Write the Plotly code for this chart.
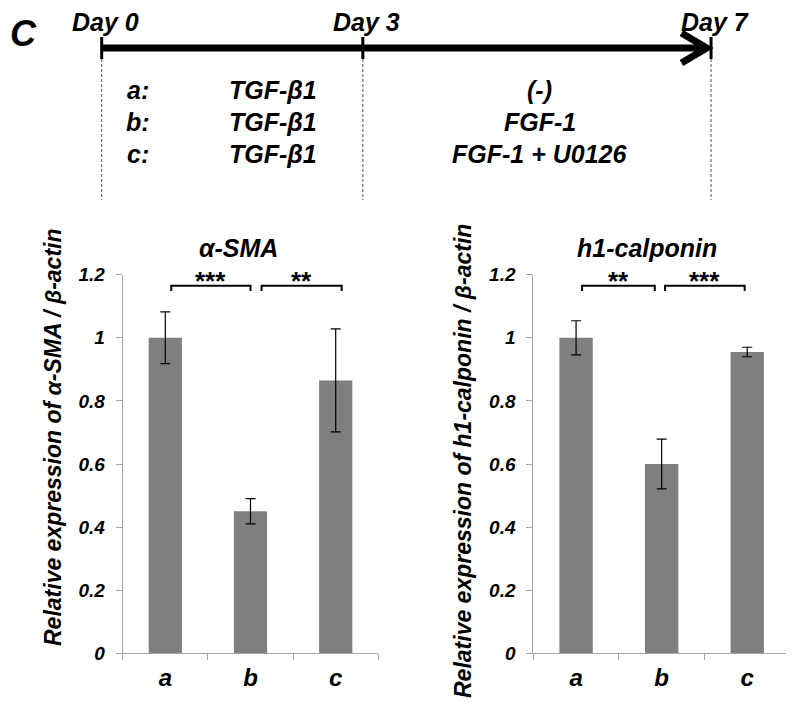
import plotly.graph_objects as go

# ---------------- data ----------------
categories = ["a", "b", "c"]
sma_values = [1.0, 0.45, 0.865]
sma_errors = [0.082, 0.04, 0.163]
cal_values = [1.0, 0.60, 0.955]
cal_errors = [0.054, 0.079, 0.015]
y_tick_vals = [0, 0.2, 0.4, 0.6, 0.8, 1.0, 1.2]
y_tick_text = ["0", "0.2", "0.4", "0.6", "0.8", "1", "1.2"]
sma_title = "α-SMA"
cal_title = "h1-calponin"
sma_ytitle = "Relative expression of α-SMA / β-actin"
cal_ytitle = "Relative expression of h1-calponin / β-actin"
sma_sig = [("***", 0, 1), ("**", 1, 2)]
cal_sig = [("**", 0, 1), ("***", 1, 2)]

days = [0, 3, 7]
day_labels = ["Day 0", "Day 3", "Day 7"]
groups = ["a:", "b:", "c:"]
phase1 = ["TGF-β1", "TGF-β1", "TGF-β1"]
phase2 = ["(-)", "FGF-1", "FGF-1 + U0126"]
panel_label = "C"

# ---------------- style ----------------
W, H = 794, 705
OFF = 8  # page body margin: the figure is drawn 8px in from the window corner
FONT = "Liberation Sans, Arial, sans-serif"
BAR = "#7f7f7f"
AX = "#a6a6a6"
DAY0_PX = 101.7
PX_PER_DAY = 87.05


def bi(size, color="black"):
    return dict(family=FONT, size=size, color=color, weight="bold", style="italic")


def px_x(p):
    return (p - OFF) / W


def px_y(p):
    return 1 - (p - OFF) / H


def px2d(p):
    # screen pixel x -> overlay (timeline) axis units
    return (p - DAY0_PX) / PX_PER_DAY


fig = go.Figure()

fig.add_trace(go.Bar(
    x=categories, y=sma_values, width=0.39, marker=dict(color=BAR, line=dict(width=0)),
    error_y=dict(type="data", array=sma_errors, color="black", thickness=1.2, width=5),
    xaxis="x", yaxis="y", showlegend=False))
fig.add_trace(go.Bar(
    x=categories, y=cal_values, width=0.39, marker=dict(color=BAR, line=dict(width=0)),
    error_y=dict(type="data", array=cal_errors, color="black", thickness=1.2, width=5),
    xaxis="x2", yaxis="y2", showlegend=False))

# invisible trace to anchor the overlay (timeline) axes
fig.add_trace(go.Scatter(x=days, y=[48] * len(days), mode="markers",
                         marker=dict(opacity=0), xaxis="x3", yaxis="y3",
                         showlegend=False, hoverinfo="skip"))

y_top = px_y(274.7)
y_bot = px_y(653.3)

common_x = dict(type="category", showline=True, linecolor=AX, linewidth=1,
                ticks="outside", tickcolor=AX, ticklen=6, tickson="boundaries",
                tickfont=bi(24), showgrid=False, zeroline=False, fixedrange=True,
                ticklabelstandoff=3)
common_y = dict(range=[0, 1.2], showline=True, linecolor=AX, linewidth=1,
                ticks="outside", tickcolor=AX, ticklen=6, tickvals=y_tick_vals,
                ticktext=y_tick_text, tickfont=bi(19), showgrid=False,
                zeroline=False, ticklabelstandoff=7, fixedrange=True)

fig.update_layout(
    width=W, height=H, margin=dict(l=0, r=0, t=0, b=0, autoexpand=False),
    paper_bgcolor="white", plot_bgcolor="rgba(0,0,0,0)",
    xaxis=dict(domain=[px_x(122.7), px_x(378.3)], anchor="y", **common_x),
    yaxis=dict(domain=[y_bot, y_top], anchor="x", **common_y),
    xaxis2=dict(domain=[px_x(533.3), px_x(790)], anchor="y2", **common_x),
    yaxis2=dict(domain=[y_bot, y_top], anchor="x2", **common_y),
    xaxis3=dict(domain=[0, 1], range=[px2d(OFF), px2d(OFF + W)],
                visible=False, anchor="y3", fixedrange=True),
    yaxis3=dict(domain=[0, 1], range=[OFF + H, OFF], visible=False, anchor="x3",
                fixedrange=True),
    showlegend=False,
)

shapes = []
annotations = []


# significance brackets
def add_sig(sig, xref, yref, offsets):
    for (stars, i, j), (o0, o1) in zip(sig, offsets):
        x0, x1 = i + o0, j + o1
        shapes.append(dict(type="path", xref=xref, yref=yref,
                           path=f"M {x0},1.148 L {x0},1.165 L {x1},1.165 L {x1},1.148",
                           line=dict(color="black", width=2)))
        annotations.append(dict(x=(x0 + x1) / 2, y=1.125, xref=xref, yref=yref,
                                text=stars, showarrow=False, yanchor="bottom",
                                font=dict(family=FONT, size=26, color="black", weight="bold")))


add_sig(sma_sig, "x", "y", [(0.07, 0.0), (0.13, 0.07)])
add_sig(cal_sig, "x2", "y2", [(0.07, -0.08), (0.04, -0.03)])


def txt(xpx, ypx, text, size, angle=0, xanchor="center"):
    annotations.append(dict(x=px2d(xpx), y=ypx, xref="x3", yref="y3", text=text,
                            textangle=angle, showarrow=False, font=bi(size),
                            xanchor=xanchor))


# chart titles
txt(238, 248, sma_title, 25)
txt(647, 248, cal_title, 25)

# y-axis titles
txt(53, 437, sma_ytitle, 23, -90)
txt(463, 461, cal_ytitle, 23, -90)

# panel label (kept inside the drawable area that starts at the page margin)
txt(OFF, 33, panel_label, 36, xanchor="left")

# ---------------- timeline ----------------
LINE_Y = 48
shapes.append(dict(type="line", xref="x3", yref="y3", x0=days[0], x1=6.95,
                   y0=LINE_Y, y1=LINE_Y, line=dict(color="black", width=7)))
shapes.append(dict(type="path", xref="x3", yref="y3",
                   path=f"M 6.66,33 L 6.95,{LINE_Y} L 6.66,63",
                   line=dict(color="black", width=7)))
for d, lab in zip(days, day_labels):
    shapes.append(dict(type="line", xref="x3", yref="y3", x0=d, x1=d, y0=37, y1=59,
                       line=dict(color="black", width=3)))
    shapes.append(dict(type="line", xref="x3", yref="y3", x0=d, x1=d, y0=59, y1=200,
                       line=dict(color="#555555", width=1, dash="3px,2px")))
    annotations.append(dict(x=d + 0.04, y=22, xref="x3", yref="y3", text=lab,
                            showarrow=False, font=bi(25)))

row_y = [90, 122, 154]
for g, p1, p2, ry in zip(groups, phase1, phase2, row_y):
    annotations.append(dict(x=px2d(138), y=ry, xref="x3", yref="y3", text=g,
                            showarrow=False, font=bi(25)))
    annotations.append(dict(x=px2d(273), y=ry, xref="x3", yref="y3", text=p1,
                            showarrow=False, font=bi(25)))
    annotations.append(dict(x=5.03, y=ry, xref="x3", yref="y3", text=p2,
                            showarrow=False, font=bi(25)))

fig.update_layout(shapes=shapes, annotations=annotations)

fig.write_html("out.html")
